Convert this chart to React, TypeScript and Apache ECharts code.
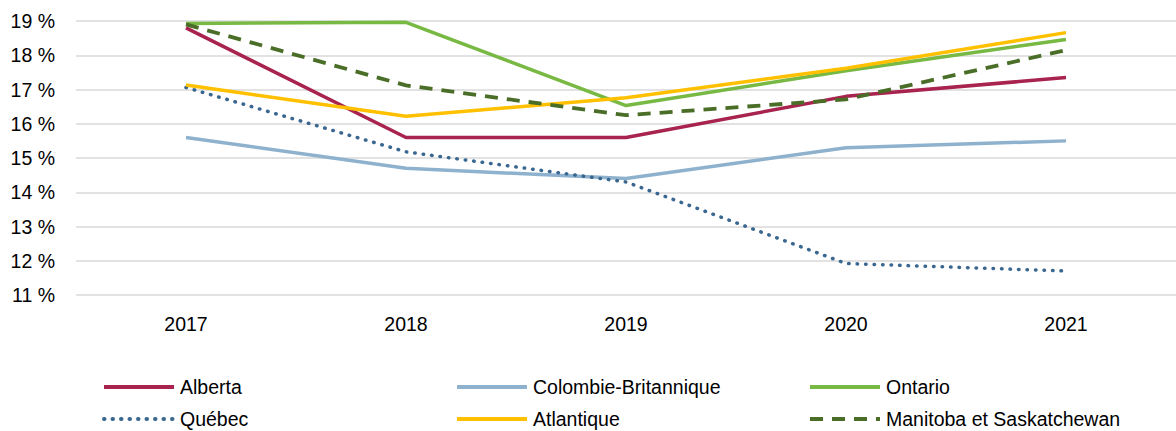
import React, { useEffect, useRef } from "react";
import * as echarts from "echarts";

const years = ["2017", "2018", "2019", "2020", "2021"];
const alberta = [18.8, 15.6, 15.6, 16.8, 17.35];
const colombieBritannique = [15.6, 14.7, 14.4, 15.3, 15.5];
const ontario = [18.93, 18.96, 16.53, 17.55, 18.46];
const quebec = [17.06, 15.18, 14.3, 11.92, 11.7];
const atlantique = [17.13, 16.22, 16.76, 17.62, 18.66];
const manitobaSask = [18.9, 17.12, 16.25, 16.71, 18.15];
const yTicks = [11, 12, 13, 14, 15, 16, 17, 18, 19];

const FONT = "'Liberation Sans', Arial, sans-serif";
const FS = 19.5;

export default function App() {
  const ref = useRef<HTMLDivElement>(null);
  useEffect(() => {
    document.body.style.margin = "0";
    const chart = echarts.init(ref.current!, null, { renderer: "svg" });
    const mk = (name: string, data: number[], color: string, width: number, type: any, cap = "butt") => ({
      name,
      type: "line",
      data,
      symbol: "none",
      lineStyle: { color, width, type, cap },
      itemStyle: { color },
      z: 3,
    });
    const legendBase = {
      orient: "vertical",
      top: 375,
      height: 100,
      itemWidth: 70,
      itemHeight: 14,
      itemGap: 8,
      padding: 0,
      itemStyle: { opacity: 0 },
      lineStyle: { width: 4 },
      textStyle: { fontFamily: FONT, fontSize: FS, lineHeight: 24, color: "#000", padding: [0, 0, 0, 1] },
      selectedMode: false,
    };
    chart.setOption({
      animation: false,
      textStyle: { fontFamily: FONT },
      grid: { left: 76, top: 21, width: 1110, height: 274, containLabel: false },
      xAxis: {
        type: "category",
        data: years,
        boundaryGap: true,
        axisLine: { show: false },
        axisTick: { show: false },
        axisLabel: { fontSize: FS, color: "#000", margin: 19, fontFamily: FONT },
      },
      yAxis: {
        type: "value",
        min: yTicks[0],
        max: yTicks[yTicks.length - 1],
        interval: 1,
        axisLine: { show: false },
        axisTick: { show: false },
        splitLine: { lineStyle: { color: "#D9D9D9", width: 1.5 } },
        axisLabel: {
          fontSize: FS,
          color: "#000",
          margin: 21,
          fontFamily: FONT,
          formatter: (v: number) => `${v} %`,
        },
      },
      legend: [
        { ...legendBase, left: 102, data: ["Alberta", "Québec"] },
        { ...legendBase, left: 455, data: ["Colombie-Britannique", "Atlantique"] },
        { ...legendBase, left: 808, data: ["Ontario", "Manitoba et Saskatchewan"] },
      ],
      series: [
        mk("Alberta", alberta, "#A8234D", 3.5),
        mk("Colombie-Britannique", colombieBritannique, "#8EB2CD", 3.5),
        mk("Ontario", ontario, "#78B944", 3.5),
        mk("Québec", quebec, "#3A6790", 3.5, [0.5, 8], "round"),
        mk("Atlantique", atlantique, "#FFC000", 3.5),
        mk("Manitoba et Saskatchewan", manitobaSask, "#4A6E28", 3.8, [13, 9]),
      ],
    });
    return () => chart.dispose();
  }, []);
  return <div ref={ref} style={{ width: 1176, height: 431 }} />;
}
